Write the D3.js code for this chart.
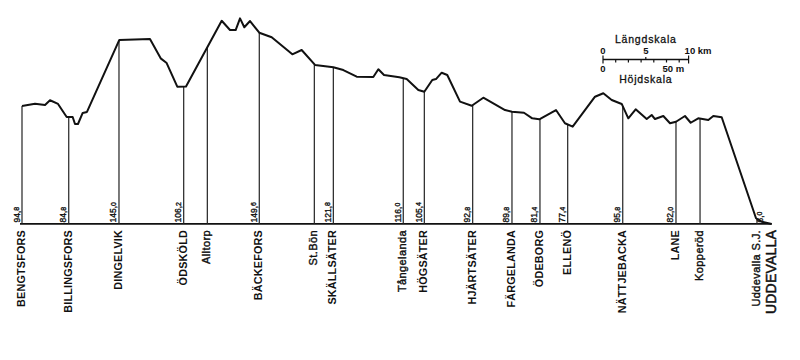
<!DOCTYPE html>
<html>
<head>
<meta charset="utf-8">
<script src="https://cdn.jsdelivr.net/npm/d3@7"></script>
<style>
  body { margin: 0; background: #fff; }
  svg { display: block; font-family: "Liberation Sans", Arial, sans-serif; }
</style>
</head>
<body>
<svg id="profile" width="800" height="360"></svg>
<script>
// track profile: distance (km) and height (m)
const profileKm = [0, 1.52, 2.69, 3.27, 4.21, 5.22, 5.92, 6.19, 6.54, 7.09, 7.59, 11.37, 14.95, 16.2, 16.9, 18.14, 19.16,
  23.33, 24.3, 24.96, 25.47, 25.97, 26.64, 27.72, 29.17, 31.58, 32.67, 34.23, 36.37, 37.54, 39.1, 41.04, 41.63, 42.29,
  44.08, 44.94, 46.3, 47.0, 47.93, 48.36, 49.03, 49.68, 51.17, 52.54, 53.89, 56.43, 57.24, 58.64, 59.61, 60.43, 62.38,
  63.43, 64.33, 66.94, 67.91, 68.89, 70.06, 70.83, 71.69, 72.98, 73.56, 73.95, 74.92, 75.7, 76.4, 77.45, 78.12, 79.0,
  80.18, 80.76, 81.74, 85.75, 86.41, 87.58];
const profileElev = [94.8, 96.6, 95.7, 99.4, 96.5, 86.2, 86.2, 80.7, 80.7, 89.4, 90.2, 146.9, 147.6, 132.4, 128.7, 110.1, 110.2,
  162.0, 154.7, 154.7, 163.9, 156.9, 161.8, 152.6, 149.0, 135.6, 139.0, 127.2, 125.4, 123.2, 118.0, 117.7, 123.8, 119.3,
  117.5, 116.1, 107.5, 106.1, 115.4, 116.1, 121.1, 119.3, 98.3, 95.1, 101.4, 91.7, 90.4, 89.6, 85.2, 84.4, 91.7,
  81.3, 78.6, 102.2, 104.9, 99.6, 96.5, 85.2, 92.3, 84.6, 87.8, 84.6, 87.0, 81.3, 82.5, 87.0, 81.7, 85.2,
  83.9, 87.0, 86.0, 6.5, 3.8, 2.0];

const stationNames = ["BENGTSFORS", "BILLINGSFORS", "DINGELVIK", "ÖDSKÖLD", "Alltorp", "BÄCKEFORS", "St.Bön", "SKÄLLSÄTER",
  "Tångelanda", "HÖGSÄTER", "HJÄRTSÄTER", "FÄRGELANDA", "ÖDEBORG", "ELLENÖ", "NÄTTJEBACKA", "LANE", "Kopperöd",
  "Uddevalla S.J.", "UDDEVALLA"];
const stationKm = [0, 5.46, 11.33, 18.89, 21.65, 27.72, 34.15, 36.37, 44.54, 47.0, 52.65, 57.24, 60.51, 63.75, 70.18,
  76.4, 79.21, 85.86, 87.58];
const stationHeights = ["94,8", "84,8", "145,0", "106,2", null, "149,6", null, "121,8", "116,0", "105,4", "92,8", "89,8",
  "81,4", "77,4", "95,8", "82,0", null, "6,0", null];

const datum = 2;  // height of the base line, m

const svg = d3.select("#profile");

const x = d3.scaleLinear().domain([0, 88]).range([22, 22 + 88 * 8.56]);
const y = d3.scaleLinear().domain([0, 150]).range([226.5, 226.5 - 150 * 1.27]);
const ground = d3.scaleLinear().domain(profileKm).range(profileElev);  // height at any km

// base line
svg.append("line")
  .attr("x1", x(0) - 2).attr("x2", x(87.58))
  .attr("y1", y(datum)).attr("y2", y(datum))
  .attr("stroke", "#111").attr("stroke-width", 1.7);

// station verticals
svg.selectAll("line.st")
  .data(stationKm.filter((k, i) => i < stationKm.length - 1))
  .enter().append("line")
  .attr("class", "st")
  .attr("x1", d => x(d)).attr("x2", d => x(d))
  .attr("y1", y(datum)).attr("y2", d => y(ground(d)))
  .attr("stroke", "#222").attr("stroke-width", 1.2);

// profile
svg.append("path")
  .datum(d3.zip(profileKm, profileElev))
  .attr("d", d3.line().x(d => x(d[0])).y(d => y(d[1])))
  .attr("fill", "none")
  .attr("stroke", "#111")
  .attr("stroke-width", 2)
  .attr("stroke-linejoin", "round");

// station names
stationNames.forEach((name, i) => {
  const caps = name === name.toUpperCase();
  const big = name === "UDDEVALLA";
  svg.append("text")
    .attr("transform", `translate(${x(stationKm[i]) - 1},230) rotate(-90)`)
    .attr("text-anchor", "end")
    .attr("dy", "0.36em")
    .attr("font-size", big ? 14 : caps ? 10.8 : 11)
    .attr("font-weight", caps && !big ? "bold" : "normal")
    .attr("letter-spacing", caps ? 0.2 : 0.4)
    .attr("fill", "#111")
    .attr("stroke", caps && !big ? "none" : "#111")
    .attr("stroke-width", big ? 0.5 : 0.4)
    .text(name);
});

// height labels
stationHeights.forEach((h, i) => {
  if (!h) return;
  const last = stationNames[i].startsWith("Uddevalla");
  const px = last ? x(stationKm[i]) + 6 : x(stationKm[i]) - 2.5;
  const parts = h.split(",");
  const t = svg.append("text")
    .attr("transform", `translate(${px},222.5) rotate(-90)`)
    .attr("font-size", 8.5)
    .attr("fill", "#111")
    .attr("stroke", "#111")
    .attr("stroke-width", 0.35);
  t.append("tspan").text(parts[0] + ",");
  t.append("tspan").attr("font-size", 7).attr("dy", -0.5).text(parts[1]);
});

// scale bar
const kmLen = d3.scaleLinear().domain([0, 10]).range([0, x(10) - x(0)]);
const mLen = d3.scaleLinear().domain([0, 50]).range([0, y(0) - y(50)]);
const bar = svg.append("g").attr("transform", "translate(603,59.5)");

bar.append("line").attr("x1", 0).attr("x2", kmLen(10)).attr("stroke", "#111").attr("stroke-width", 1.4);
bar.selectAll("line.km").data([0, 5, 10]).enter().append("line")
  .attr("x1", d => kmLen(d)).attr("x2", d => kmLen(d))
  .attr("y1", d => d === 5 ? -2.5 : -4).attr("y2", d => d === 5 ? 0 : 4)
  .attr("stroke", "#111").attr("stroke-width", 1.2);
bar.selectAll("line.m").data([10, 20, 30, 40, 50, 60]).enter().append("line")
  .attr("x1", d => mLen(d)).attr("x2", d => mLen(d))
  .attr("y1", 0).attr("y2", 3)
  .attr("stroke", "#111").attr("stroke-width", 1.2);

bar.selectAll("text.km").data([0, 5, 10]).enter().append("text")
  .attr("x", d => kmLen(d)).attr("y", -6)
  .attr("text-anchor", d => d === 10 ? "start" : "middle")
  .attr("dx", d => d === 10 ? -4 : 0)
  .attr("font-size", 9.5).attr("font-weight", "bold").attr("fill", "#111")
  .text(d => d === 10 ? "10 km" : d);
bar.selectAll("text.m").data([0, 50]).enter().append("text")
  .attr("x", d => mLen(d)).attr("y", 12)
  .attr("text-anchor", d => d === 0 ? "middle" : "start")
  .attr("dx", d => d === 0 ? 0 : -4)
  .attr("font-size", 9.5).attr("font-weight", "bold").attr("fill", "#111")
  .text(d => d === 0 ? "0" : "50 m");

bar.append("text").attr("x", kmLen(5)).attr("y", -17)
  .attr("text-anchor", "middle").attr("font-size", 10.5).attr("letter-spacing", 0.8)
  .attr("fill", "#111").attr("stroke", "#111").attr("stroke-width", 0.3)
  .text("Längdskala");
bar.append("text").attr("x", kmLen(5)).attr("y", 23)
  .attr("text-anchor", "middle").attr("font-size", 10.5).attr("letter-spacing", 0.8)
  .attr("fill", "#111").attr("stroke", "#111").attr("stroke-width", 0.3)
  .text("Höjdskala");
</script>
</body>
</html>
